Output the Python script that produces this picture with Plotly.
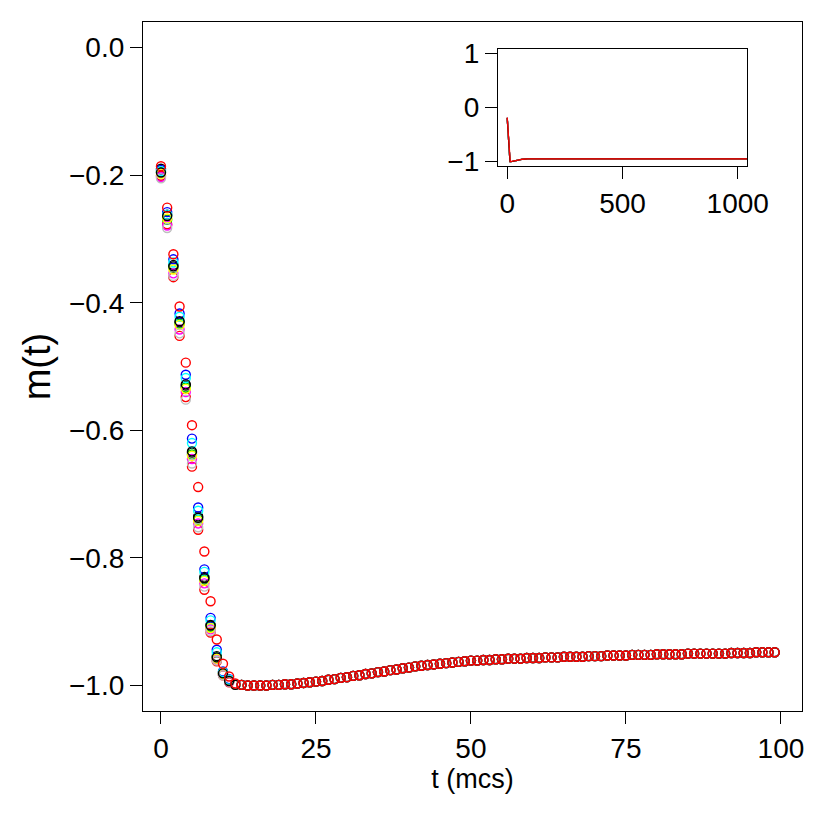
import plotly.graph_objects as go

# time steps (mcs) shown in the main panel
t_main = list(range(100))

# R default palette order, series drawn 1..10 so the last red sits on top
colors = ["black", "#FF0000", "#00CD00", "#0000FF", "#00FFFF",
          "#FF00FF", "#FFFF00", "#BEBEBE", "black", "#FF0000"]

# early transient (t = 0..12), one list per run
head_1 = [-0.190, -0.262, -0.341, -0.431, -0.530, -0.635, -0.735, -0.830, -0.905, -0.954, -0.980, -0.992, -0.998]
head_2 = [-0.201, -0.277, -0.360, -0.452, -0.548, -0.657, -0.756, -0.850, -0.917, -0.962, -0.984, -0.995, -0.999]
head_3 = [-0.195, -0.270, -0.345, -0.433, -0.533, -0.638, -0.740, -0.834, -0.908, -0.956, -0.982, -0.993, -0.999]
head_4 = [-0.192, -0.258, -0.332, -0.417, -0.513, -0.613, -0.721, -0.818, -0.894, -0.944, -0.978, -0.990, -0.998]
head_5 = [-0.194, -0.262, -0.337, -0.422, -0.518, -0.620, -0.726, -0.822, -0.898, -0.948, -0.979, -0.991, -0.998]
head_6 = [-0.203, -0.279, -0.354, -0.442, -0.540, -0.645, -0.746, -0.840, -0.912, -0.959, -0.983, -0.994, -0.999]
head_7 = [-0.198, -0.268, -0.348, -0.435, -0.535, -0.640, -0.742, -0.836, -0.910, -0.958, -0.982, -0.993, -0.999]
head_8 = [-0.205, -0.283, -0.358, -0.448, -0.552, -0.652, -0.752, -0.845, -0.915, -0.961, -0.984, -0.994, -0.999]
head_9 = [-0.196, -0.264, -0.343, -0.429, -0.528, -0.633, -0.737, -0.832, -0.906, -0.956, -0.981, -0.993, -0.999]
head_10 = [-0.186, -0.251, -0.324, -0.406, -0.494, -0.592, -0.689, -0.790, -0.868, -0.928, -0.966, -0.986, -0.997]

# relaxation part (t = 13..99), the runs overlap here
tail_m = [
    -0.999, -1.000, -1.000, -1.000, -1.000, -0.999, -0.999,                  # 13-19
    -0.998, -0.998, -0.997, -0.996, -0.995, -0.994, -0.993, -0.991, -0.990, -0.988,  # 20-29
    -0.987, -0.985, -0.984, -0.982, -0.981, -0.979, -0.978, -0.976, -0.975, -0.973,  # 30-39
    -0.972, -0.970, -0.969, -0.968, -0.967, -0.966, -0.965, -0.964, -0.963, -0.962,  # 40-49
    -0.961, -0.961, -0.960, -0.960, -0.959, -0.959, -0.958, -0.958, -0.958, -0.957,  # 50-59
    -0.957, -0.957, -0.956, -0.956, -0.956, -0.955, -0.955, -0.955, -0.955, -0.954,  # 60-69
    -0.954, -0.954, -0.953, -0.953, -0.953, -0.953, -0.952, -0.952, -0.952, -0.952,  # 70-79
    -0.951, -0.951, -0.951, -0.951, -0.951, -0.950, -0.950, -0.950, -0.950, -0.950,  # 80-89
    -0.950, -0.950, -0.949, -0.949, -0.949, -0.949, -0.948, -0.948, -0.948, -0.948,  # 90-99
]

# long-run values for the inset (t > 99)
late_t = [150, 200, 300, 400, 500, 600, 700, 800, 900, 1000, 1040]
late_m = [-0.947, -0.947, -0.946, -0.946, -0.946, -0.946, -0.947, -0.947, -0.947, -0.947, -0.947]

heads = [head_1, head_2, head_3, head_4, head_5, head_6, head_7, head_8, head_9, head_10]

FONT = "Liberation Sans, Arial, sans-serif"

fig = go.Figure()

for head, col in zip(heads, colors):
    m = head + tail_m
    fig.add_trace(go.Scatter(
        x=t_main, y=m, mode="markers",
        marker=dict(symbol="circle-open", size=9, color=col, line=dict(width=1.4, color=col)),
        showlegend=False, xaxis="x", yaxis="y",
    ))

for head, col in zip(heads, colors):
    m = head + tail_m + late_m
    fig.add_trace(go.Scatter(
        x=t_main + late_t, y=m, mode="lines",
        line=dict(color=col, width=1.3),
        showlegend=False, xaxis="x2", yaxis="y2",
    ))

axis_common = dict(
    showline=True, mirror=True, linecolor="black", linewidth=1.2,
    ticks="outside", ticklen=12, tickwidth=1, tickcolor="black",
    showgrid=False, zeroline=False, automargin=False,
    tickfont=dict(family=FONT, size=28, color="black"),
)

# page body adds an 8px offset, so the figure is 8px smaller and shifted
fig.update_layout(
    width=822, height=822,
    paper_bgcolor="white", plot_bgcolor="white",
    margin=dict(l=135, r=28, t=14, b=119),
    font=dict(family=FONT, color="black"),
    xaxis=dict(
        range=[-2.9, 103.4], tickvals=[0, 25, 50, 75, 100],
        title=dict(text="t (mcs)", font=dict(family=FONT, size=27), standoff=3),
        **axis_common,
    ),
    yaxis=dict(
        range=[-1.04, 0.04], tickvals=[-1.0, -0.8, -0.6, -0.4, -0.2, 0.0], tickformat=".1f",
        title=dict(text="m(t)", font=dict(family=FONT, size=38), standoff=6),
        **axis_common,
    ),
    xaxis2=dict(
        domain=[0.5387, 0.9165], anchor="y2", range=[-40, 1040], tickvals=[0, 500, 1000],
        **axis_common,
    ),
    yaxis2=dict(
        domain=[0.791, 0.9608], anchor="x2", range=[-1.08, 1.08], tickvals=[-1, 0, 1],
        **axis_common,
    ),
)

fig.write_html("out.html")
